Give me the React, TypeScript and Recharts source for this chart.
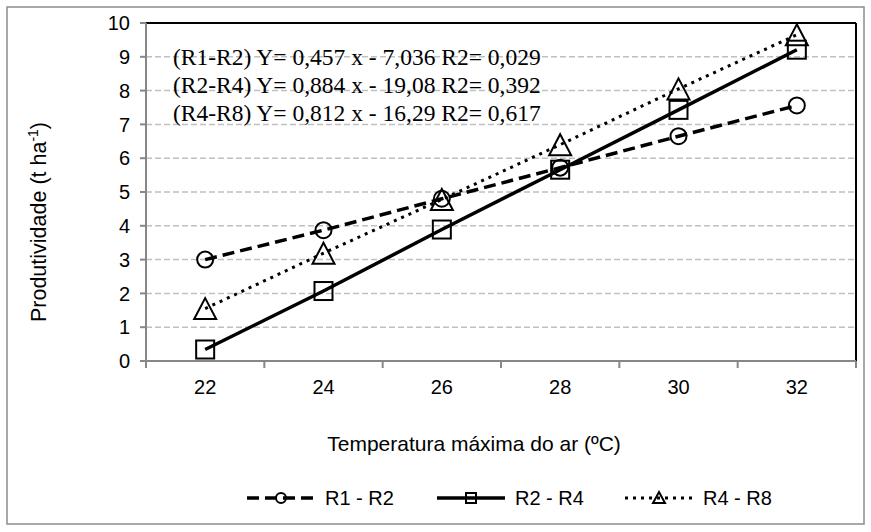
import { LineChart, Line, XAxis, YAxis, CartesianGrid, Legend, ReferenceLine } from 'recharts';

const temps = [22, 24, 26, 28, 30, 32];
const r1r2 = [3.0, 3.87, 4.8, 5.72, 6.65, 7.56];
const r2r4 = [0.34, 2.07, 3.89, 5.66, 7.43, 9.21];
const r4r8 = [1.55, 3.19, 4.78, 6.4, 8.05, 9.65];
const yTicks = [0, 1, 2, 3, 4, 5, 6, 7, 8, 9, 10];
const xTicks = [21, 22, 23, 24, 25, 26, 27, 28, 29, 30, 31, 32, 33];
const seriesNames = ['R1 - R2', 'R2 - R4', 'R4 - R8'];
const equations = [
  '(R1-R2) Y= 0,457 x - 7,036 R2= 0,029',
  '(R2-R4) Y= 0,884 x - 19,08 R2= 0,392',
  '(R4-R8) Y= 0,812 x - 16,29 R2= 0,617',
];

const data = temps.map((t, i) => ({ t, r1r2: r1r2[i], r2r4: r2r4[i], r4r8: r4r8[i] }));

const sans = '"Liberation Sans", Arial, sans-serif';
const serif = '"Liberation Serif", "Times New Roman", serif';
const axisGray = '#878787';

const CircleDot = (p: any) => (
  <circle cx={p.cx} cy={p.cy} r={8} fill="none" stroke="#000" strokeWidth={2} />
);
const SquareDot = (p: any) => (
  <rect x={p.cx - 9} y={p.cy - 9} width={18} height={18} fill="none" stroke="#000" strokeWidth={2} />
);
const TriDot = (p: any) => (
  <path
    d={`M${p.cx},${p.cy - 10.5} L${p.cx + 11},${p.cy + 10.5} L${p.cx - 11},${p.cy + 10.5} Z`}
    fill="none"
    stroke="#000"
    strokeWidth={2}
  />
);

// odd values only carry the tick marks between categories, even values the labels
const XTick = (p: any) => {
  const v = p.payload.value;
  if (v % 2 === 1) {
    return <line x1={p.x} x2={p.x} y1={p.y} y2={p.y + 7} stroke={axisGray} strokeWidth={2} />;
  }
  return (
    <text x={p.x} y={p.y + 33} textAnchor="middle" fontSize={20} fontFamily={sans} fill="#000">
      {v}
    </text>
  );
};

const lineStyles = [
  { dash: '12 6', width: 3.5, marker: 'circle' },
  { dash: undefined, width: 3.5, marker: 'square' },
  { dash: '3 5', width: 3, marker: 'tri' },
];

const LegendContent = () => {
  const starts = [247, 437, 625];
  return (
    <svg width={871} height={30}>
      {seriesNames.map((name, i) => {
        const x0 = starts[i];
        const cx = x0 + 34;
        const cy = 15;
        const s = lineStyles[i];
        return (
          <g key={name}>
            <line x1={x0} x2={x0 + 68} y1={cy} y2={cy} stroke="#000" strokeWidth={s.width} strokeDasharray={s.dash} />
            {s.marker === 'circle' && <circle cx={cx} cy={cy} r={5} fill="none" stroke="#000" strokeWidth={2} />}
            {s.marker === 'square' && <rect x={cx - 5} y={cy - 5} width={10} height={10} fill="none" stroke="#000" strokeWidth={2} />}
            {s.marker === 'tri' && (
              <path d={`M${cx},${cy - 6} L${cx + 6},${cy + 5} L${cx - 6},${cy + 5} Z`} fill="none" stroke="#000" strokeWidth={2} />
            )}
            <text x={x0 + 78} y={cy + 7} fontSize={20} fontFamily={sans} fill="#000">
              {name}
            </text>
          </g>
        );
      })}
    </svg>
  );
};

export default function App() {
  return (
    <div style={{ position: 'absolute', left: 0, top: 0, width: 871, height: 532, background: '#fff' }}>
      <LineChart width={871} height={532} data={data} margin={{ top: 23, right: 15, left: 86, bottom: 141 }}>
        <rect x={7} y={7} width={857} height={517} fill="none" stroke="#8c8c8c" strokeWidth={1.5} />
        <CartesianGrid horizontal vertical={false} stroke="#c0c0c0" strokeDasharray="6 3" strokeWidth={1.5} />
        <XAxis
          dataKey="t"
          type="number"
          domain={[21, 33]}
          ticks={xTicks}
          interval={0}
          height={30}
          tickSize={0}
          tickMargin={0}
          tickLine={false}
          tick={<XTick />}
          axisLine={{ stroke: axisGray, strokeWidth: 2 }}
        />
        <YAxis
          type="number"
          domain={[0, 10]}
          ticks={yTicks}
          interval={0}
          width={60}
          tickSize={6}
          tickMargin={10}
          tickLine={{ stroke: axisGray, strokeWidth: 2 }}
          axisLine={{ stroke: axisGray, strokeWidth: 2 }}
          tick={{ fontSize: 20, fontFamily: sans, fill: '#000' }}
        />
        <ReferenceLine y={10} stroke="#000" strokeWidth={2} />
        <ReferenceLine x={33} stroke="#000" strokeWidth={2} />
        <Line dataKey="r1r2" name={seriesNames[0]} stroke="#000" strokeWidth={3.5} strokeDasharray="12 6" dot={<CircleDot />} isAnimationActive={false} />
        <Line dataKey="r2r4" name={seriesNames[1]} stroke="#000" strokeWidth={3.5} dot={<SquareDot />} isAnimationActive={false} />
        <Line dataKey="r4r8" name={seriesNames[2]} stroke="#000" strokeWidth={3} strokeDasharray="3 5" dot={<TriDot />} isAnimationActive={false} />
        {equations.map((eq, i) => (
          <text key={eq} x={173} y={65 + i * 28} fontSize={23.5} fontFamily={serif} fill="#000">
            {eq}
          </text>
        ))}
        <text x={474} y={451} textAnchor="middle" fontSize={21} fontFamily={sans} fill="#000">
          Temperatura máxima do ar (ºC)
        </text>
        <text x={46} y={222} transform="rotate(-90, 46, 222)" textAnchor="middle" fontSize={21.5} fontFamily={sans} fill="#000">
          Produtividade (t ha<tspan fontSize={14} dy={-8}>-1</tspan><tspan dy={8}>)</tspan>
        </text>
        <Legend
          layout="horizontal"
          verticalAlign="middle"
          align="center"
          content={<LegendContent />}
          wrapperStyle={{ position: 'absolute', top: 483, left: 0, width: 871 }}
        />
      </LineChart>
    </div>
  );
}
